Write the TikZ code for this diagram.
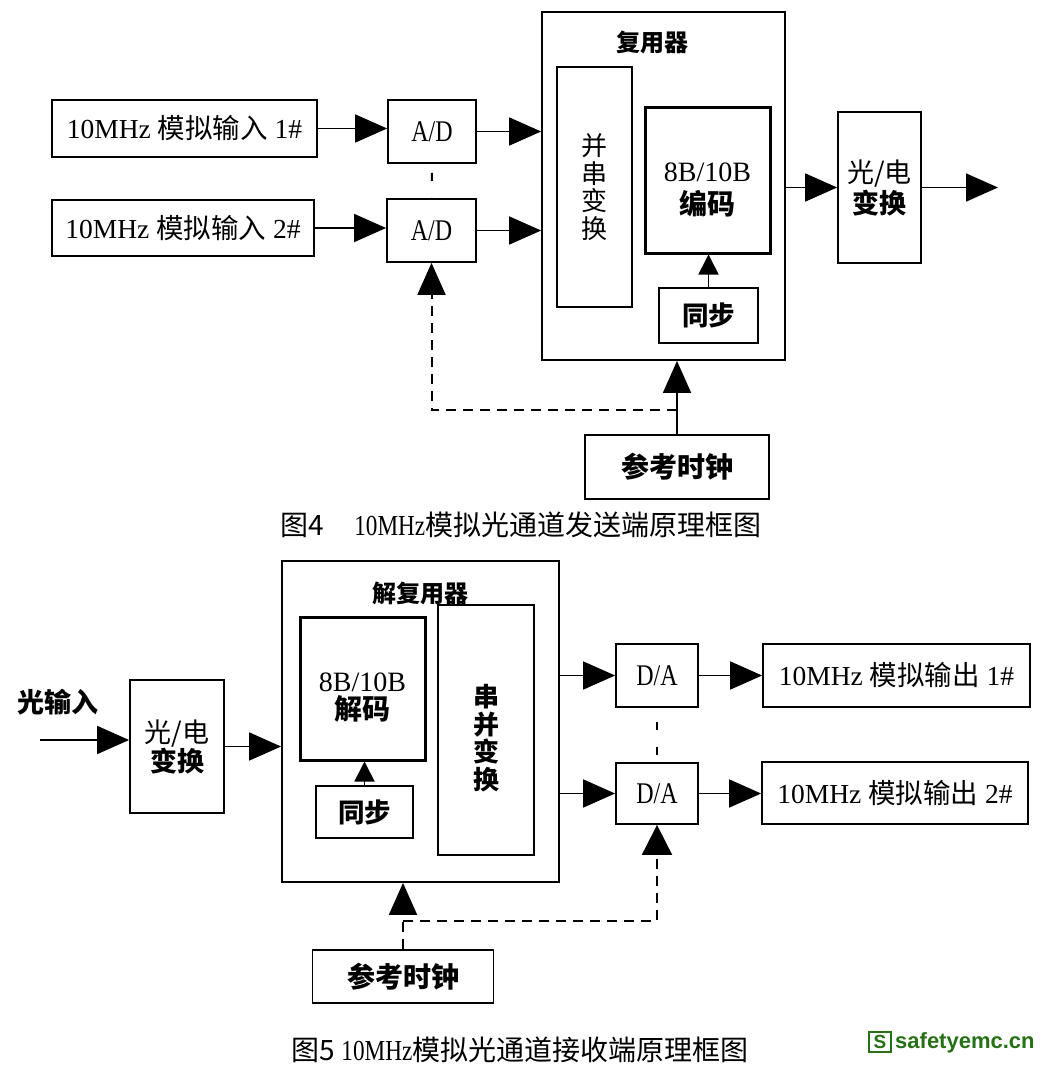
\documentclass[tikz,border=0pt]{standalone}
\usepackage{fontspec}
\setmainfont{Liberation Serif}
\newfontfamily\cjk{Noto Sans CJK SC}
\newfontfamily\cond[FakeStretch=0.8]{Liberation Serif}
\newfontfamily\wmfont{Liberation Sans}
\usetikzlibrary{arrows.meta}
\definecolor{wmgreen}{RGB}{38,112,22}
\newcommand{\zh}[1]{{\cjk #1}}
\newcommand{\zhb}[1]{{\cjk\bfseries #1}}
\newcommand{\fs}[1]{\fontsize{#1}{#1}\selectfont}
\newcommand{\lowstack}[2]{\rule{0pt}{#1}#2}
\begin{document}
\begin{tikzpicture}[x=1pt,y=-1pt,
    box/.style={draw,line width=1.8pt,inner sep=0pt,align=center},
    heavybox/.style={box,line width=3pt},
    bigarrow/.style={line width=1.7pt,-{Triangle[length=32pt,width=28pt]}},
    smallarrow/.style={line width=1.7pt,-{Triangle[length=20pt,width=20pt]}},
    clockdash/.style={line width=2pt,dash pattern=on 10pt off 7pt}]
  \useasboundingbox (0,0) rectangle (1045,1068);
  % sender
  \node[box,minimum width=265pt,minimum height=57pt,font=\fs{27.5}] (in1) at (184.5,128.5) {10MHz \zh{模拟输入} 1\#};
  \node[box,minimum width=262pt,minimum height=56pt,font=\fs{27.5}] (in2) at (183,228) {10MHz \zh{模拟输入} 2\#};
  \node[box,minimum width=88pt,minimum height=63pt,font=\cond\fs{30}] (ad1) at (432,131.5) {A/D};
  \node[box,minimum width=89pt,minimum height=63pt,font=\cond\fs{30}] (ad2) at (431.5,230.5) {A/D};
  \node[box,minimum width=243pt,minimum height=348pt] (mux) at (663.5,186) {};
  \node[font=\fs{24}] (muxlabel) at (652,42) {\zhb{复用器}};
  \node[box,minimum width=75pt,minimum height=240pt,font=\cjk\fontsize{26}{27.5}\selectfont] (ps) at (594.5,187) {并\\串\\变\\换};
  \node[heavybox,minimum width=125pt,minimum height=146pt,font=\fontsize{28}{33}\selectfont] (enc) at (707.5,180) {\lowstack{38pt}{8B/10B}\\\zhb{编码}};
  \node[box,minimum width=99pt,minimum height=55pt,font=\fs{26.5}] (sync) at (708.5,315.5) {\zhb{同步}};
  \node[box,minimum width=83pt,minimum height=151pt,font=\cjk\fontsize{27}{31}\selectfont] (oe) at (879.5,187.5) {光/电\\\bfseries 变换};
  \node[box,minimum width=184pt,minimum height=64pt,font=\fs{28}] (clk1) at (677,467) {\zhb{参考时钟}};
  \coordinate (out) at (998,187.5);
  \coordinate (tap1) at (677,410);
  \draw[bigarrow] (in1.east) -- (in1.east -| ad1.west);
  \draw[bigarrow] (in2.east) -- (in2.east -| ad2.west);
  \draw[bigarrow] (ad1.east) -- (ad1.east -| mux.west);
  \draw[bigarrow] (ad2.east) -- (ad2.east -| mux.west);
  \draw[line width=2pt,dash pattern=on 8pt off 17pt,dash phase=16pt] (ad1.south) -- (ad2.north);
  \draw[smallarrow] (sync.north) -- (sync.north |- enc.south);
  \draw[bigarrow] (oe.west -| mux.east) -- (oe.west);
  \draw[bigarrow] (oe.east) -- (out);
  \draw[bigarrow] (clk1.north) -- (clk1.north |- mux.south);
  \draw[clockdash,-{Triangle[length=32pt,width=28pt]}] (tap1) -- (tap1 -| ad2.south) -- (ad2.south);
  \node[font=\cjk\fs{28}] (cap4) at (521,525) {图4\hspace{30pt}{\cond\fs{29}10MHz}模拟光通道发送端原理框图};
  % receiver
  \node[font=\fs{27}] (optin) at (58,702) {\zhb{光输入}};
  \coordinate (src) at (40,740);
  \node[box,minimum width=94pt,minimum height=133pt,font=\cjk\fontsize{27}{29}\selectfont] (oe2) at (177,746.5) {光/电\\\bfseries 变换};
  \node[box,minimum width=277pt,minimum height=321pt] (demux) at (420.5,721.5) {};
  \node[font=\fs{24}] (demuxlabel) at (420,593) {\zhb{解复用器}};
  \node[heavybox,minimum width=125pt,minimum height=143pt,font=\fontsize{28}{28}\selectfont] (dec) at (362.5,688.5) {\lowstack{37pt}{8B/10B}\\\zhb{解码}};
  \node[box,minimum width=97pt,minimum height=52pt,font=\fs{26.5}] (sync2) at (364.5,812) {\zhb{同步}};
  \node[box,minimum width=96pt,minimum height=250pt,font=\cjk\bfseries\fontsize{26}{27.5}\selectfont] (sp) at (486,730) {\lowstack{39pt}{串}\\并\\变\\换};
  \node[box,minimum width=82pt,minimum height=63pt,font=\cond\fs{30}] (da1) at (657,675.5) {D/A};
  \node[box,minimum width=82pt,minimum height=61pt,font=\cond\fs{30}] (da2) at (657,793.5) {D/A};
  \node[box,minimum width=267pt,minimum height=63pt,font=\fs{27.5}] (out1) at (896.5,675.5) {10MHz \zh{模拟输出} 1\#};
  \node[box,minimum width=266pt,minimum height=62pt,font=\fs{27.5}] (out2) at (895,793) {10MHz \zh{模拟输出} 2\#};
  \node[box,minimum width=181pt,minimum height=53pt,font=\fs{28}] (clk2) at (403,976.5) {\zhb{参考时钟}};
  \coordinate (tap2) at (403,921);
  \draw[bigarrow] (src) -- (src -| oe2.west);
  \draw[bigarrow] (oe2.east) -- (oe2.east -| demux.west);
  \draw[smallarrow] (sync2.north) -- (sync2.north |- dec.south);
  \draw[bigarrow] (da1.west -| demux.east) -- (da1.west);
  \draw[bigarrow] (da2.west -| demux.east) -- (da2.west);
  \draw[bigarrow] (da1.east) -- (out1.west);
  \draw[bigarrow] (da2.east) -- (da2.east -| out2.west);
  \draw[line width=2pt,dash pattern=on 8pt off 17pt,dash phase=11pt] (da1.south) -- (da2.north);
  \draw[clockdash,-{Triangle[length=32pt,width=28pt]}] (clk2.north) -- (clk2.north |- demux.south);
  \draw[clockdash,-{Triangle[length=30pt,width=30pt]}] (tap2) -- (tap2 -| da2.south) -- (da2.south);
  \node[font=\cjk\fs{28}] (cap5) at (520,1050) {图5 {\cond\fs{29}10MHz}模拟光通道接收端原理框图};
  \node[draw=wmgreen,line width=2pt,text=wmgreen,minimum width=22pt,minimum height=20pt,inner sep=0pt,font=\wmfont\bfseries\fs{19}] (wmbox) at (880,1042) {S};
  \node[anchor=west,inner sep=0pt,text=wmgreen,font=\wmfont\bfseries\fs{22}] (wmtext) at (895,1043) {safetyemc.cn};
\end{tikzpicture}
\end{document}
